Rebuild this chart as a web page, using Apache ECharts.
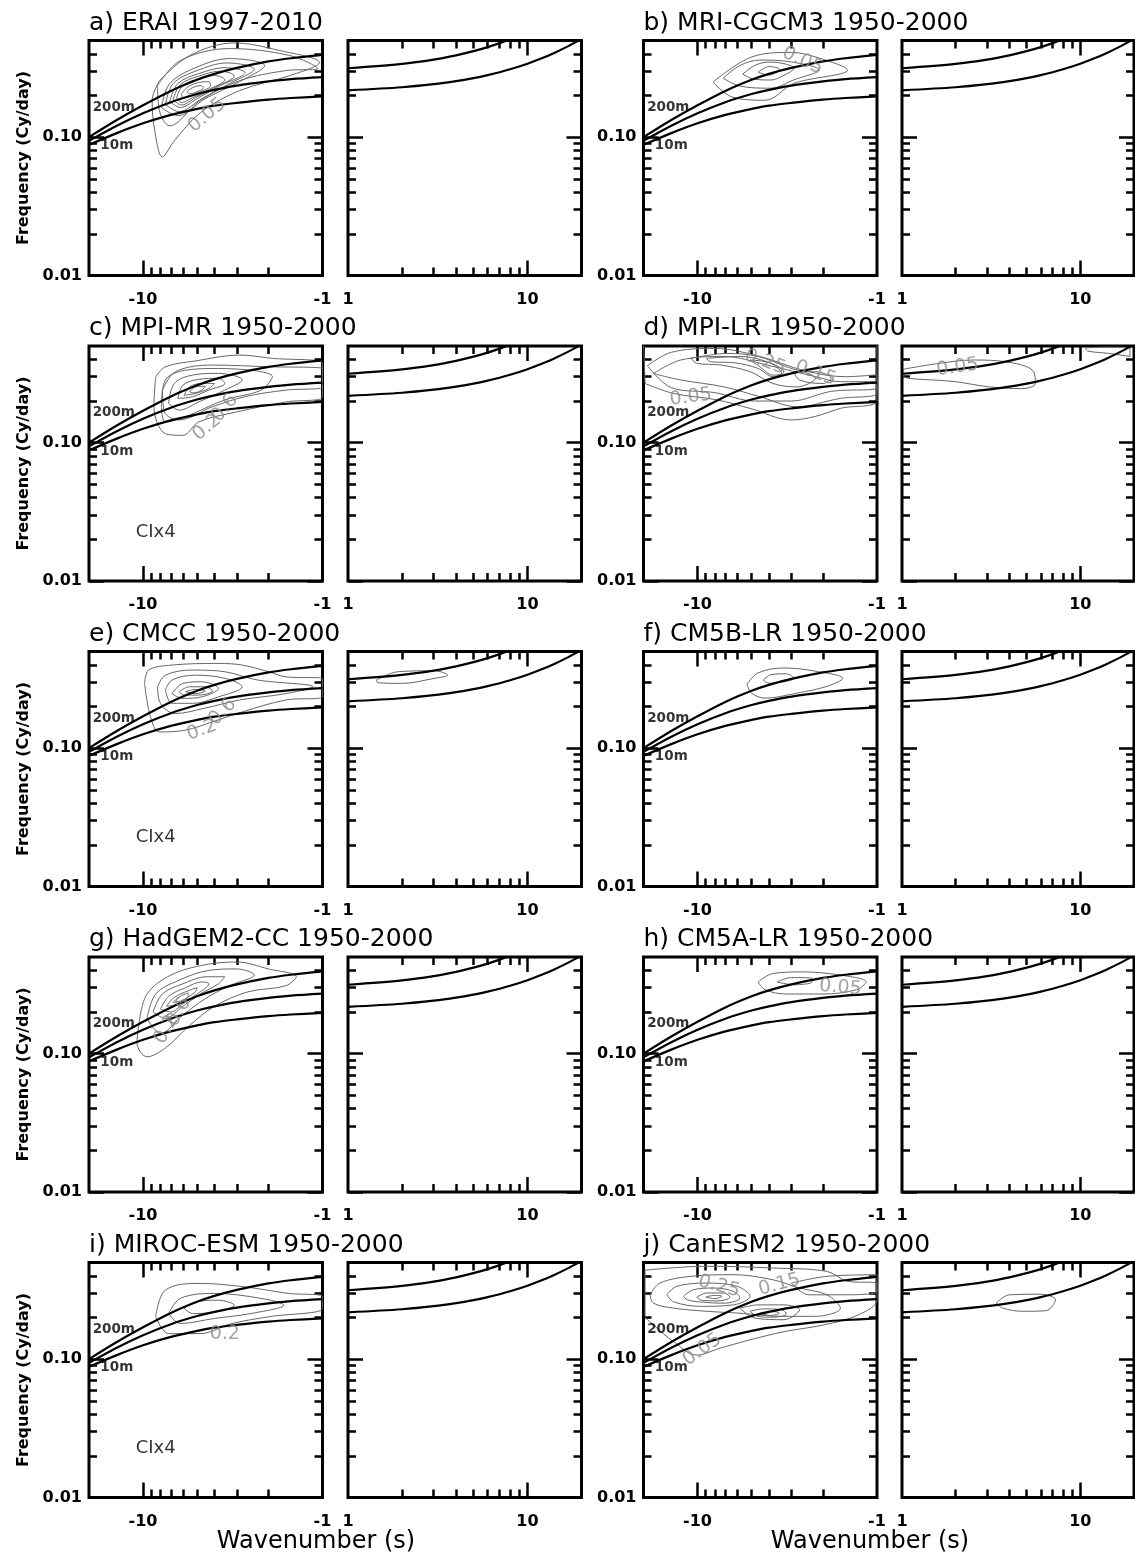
<!DOCTYPE html>
<html><head><meta charset="utf-8">
<script src="https://cdn.jsdelivr.net/npm/echarts@6.0.0/dist/echarts.min.js"></script>
<style>html,body{margin:0;padding:0;background:#fff}#c{width:1135px;height:1558px}</style>
</head><body><div id="c"></div>
<script>
// ---------------- data ----------------
const panelTitles = ['a) ERAI 1997-2010','b) MRI-CGCM3 1950-2000','c) MPI-MR 1950-2000','d) MPI-LR 1950-2000','e) CMCC 1950-2000','f) CM5B-LR 1950-2000','g) HadGEM2-CC 1950-2000','h) CM5A-LR 1950-2000','i) MIROC-ESM 1950-2000','j) CanESM2 1950-2000'];
const clx4Panels = [false,false,true,false,true,false,false,false,true,false];

// dispersion curves (westward: |wavenumber|, eastward: wavenumber)
const westWavenumbers = [1,1.5,2,3,4,5,7,10,14,20];
const mrg10m  = [0.197,0.192,0.187,0.177,0.169,0.160,0.145,0.126,0.107,0.088];
const mrg40m  = [0.272,0.263,0.253,0.236,0.220,0.205,0.179,0.149,0.121,0.094];
const mrg200m = [0.393,0.372,0.353,0.317,0.287,0.260,0.216,0.170,0.133,0.100];
const eastWavenumbers = [1,2,3,4,5,6,7,8,10,12,14,17,20];
const eig10m = [0.218,0.2295,0.2416,0.2542,0.2673,0.2809,0.295,0.3095,0.3399,0.3718,0.4051,0.4572,0.5114];
const eig40m = [0.315,0.3387,0.3639,0.3906,0.4186,0.4479,0.4785,0.5101,0.5763,0.6458,0.718,0.83,0.946];

// axis ticks
const xTickMajor = [10];
const xTickMinor = [2,3,4,5,6,7,8,9];
const xLabelValues = [1,10];
const yTickMajor = [0.01,0.1];
const yTickMinor = [0.02,0.03,0.04,0.05,0.06,0.07,0.08,0.09,0.2,0.3,0.4];
const yLabelValues = [0.01,0.1];

// curve labels
const depthLabels = ['200m','10m'];
const depthLabelWavenumbers = [19.2,17.4];
const depthLabelFreqs = [0.165,0.0865];
const clxPoint = [8.5,0.0225];

// contour loops [wavenumber, frequency]
const contoursA = [
 [[8.1,0.256],[5.5,0.389],[3.1,0.48],[1.73,0.423],[1.04,0.346],[1.52,0.279],[2.9,0.217],[4.8,0.15],[6.7,0.094],[7.8,0.072],[8.6,0.111],[8.9,0.184]],
 [[8.3,0.236],[6.2,0.358],[3.3,0.437],[1.52,0.389],[1.06,0.313],[1.6,0.303],[2.9,0.256],[4.8,0.184],[7.1,0.121],[8.1,0.155]],
 [[7.9,0.164],[7.1,0.244],[5.1,0.318],[3.3,0.37],[2.1,0.329],[2.9,0.252],[4.5,0.19],[6.4,0.143]],
 [[7.5,0.172],[6.8,0.244],[5.0,0.303],[3.4,0.344],[2.4,0.31],[3.3,0.244],[4.7,0.19],[6.3,0.153]],
 [[7.1,0.181],[6.4,0.244],[4.9,0.288],[3.5,0.318],[2.7,0.293],[3.7,0.236],[4.9,0.193],[6.2,0.164]],
 [[6.8,0.187],[6.2,0.24],[4.9,0.276],[3.7,0.3],[3.1,0.277],[4.0,0.228],[5.1,0.193],[6.1,0.171]],
 [[6.5,0.193],[6.0,0.236],[4.9,0.265],[4.0,0.279],[3.5,0.26],[4.3,0.221],[5.3,0.193],[6.1,0.178]],
 [[6.1,0.206],[5.6,0.232],[4.9,0.248],[4.3,0.252],[4.2,0.236],[4.8,0.213],[5.5,0.2],[6.0,0.193]],
 [[5.7,0.213],[5.3,0.228],[4.8,0.236],[4.6,0.228],[5.0,0.213],[5.5,0.206]]
];
const contoursAEast = [];
const contourLabelsA = [[4.4,0.144,'0.05']];
const contourAnglesA = [40];

const contoursB = [
 [[8.2,0.25],[5.0,0.38],[3.0,0.41],[2.1,0.373],[1.46,0.306],[2.9,0.245],[4.2,0.185],[6.4,0.195]],
 [[7.2,0.267],[5.8,0.33],[4.5,0.361],[3.0,0.35],[2.1,0.306],[2.9,0.26],[3.9,0.226],[5.8,0.234]],
 [[5.6,0.286],[4.8,0.33],[4.0,0.349],[3.3,0.34],[2.9,0.316],[3.3,0.28],[3.9,0.259],[4.8,0.262]],
 [[4.6,0.295],[4.0,0.324],[3.5,0.31],[4.0,0.281]]
];
const contoursBEast = [];
const contourLabelsB = [[2.6,0.357,'0.05']];
const contourAnglesB = [-25];

const contoursC = [
 [[8.5,0.3],[8.7,0.182],[7.5,0.116],[6.0,0.113],[4.9,0.141],[3.0,0.167],[1.6,0.197],[1.0,0.215],[1.0,0.375],[1.9,0.407],[2.9,0.43],[5.1,0.39],[7.5,0.354]],
 [[7.8,0.24],[6.6,0.326],[4.1,0.364],[2.0,0.354],[1.0,0.344],[1.0,0.253],[1.6,0.24],[2.7,0.215],[4.1,0.182],[6.3,0.146],[7.6,0.167]],
 [[7.9,0.182],[7.5,0.284],[5.8,0.334],[3.8,0.344],[1.9,0.30],[2.2,0.24],[3.5,0.204],[5.8,0.154],[7.5,0.141]],
 [[7.2,0.192],[6.7,0.268],[5.3,0.308],[3.8,0.317],[2.8,0.284],[3.5,0.24],[4.9,0.197],[6.3,0.172]],
 [[6.4,0.209],[6.0,0.26],[4.9,0.287],[3.8,0.292],[3.5,0.268],[4.3,0.24],[5.3,0.215]],
 [[5.9,0.22],[5.5,0.253],[4.7,0.268],[4.0,0.268],[4.3,0.246],[5.1,0.227]],
 [[5.5,0.233],[5.1,0.253],[4.5,0.256],[4.7,0.24],[5.2,0.229]]
];
const contoursCEast = [];
const contourLabelsC = [[3.5,0.178,'0.6'],[4.4,0.129,'0.2']];
const contourAnglesC = [50,40];

const contoursD = [
 [[19.6,0.268],[13.6,0.227],[7.8,0.204],[5.1,0.177],[3.0,0.146],[2.2,0.155],[1.6,0.177],[1.0,0.204],[1.0,0.55],[3.8,0.55],[13.6,0.55],[20,0.55]],
 [[19,0.36],[14,0.45],[8,0.48],[4.5,0.42],[2.5,0.33],[1.5,0.3],[1.0,0.31],[1.0,0.25],[1.8,0.235],[3.0,0.2],[4.8,0.2],[8,0.23],[14,0.25]],
 [[17.6,0.316],[12.4,0.396],[7.1,0.42],[4.1,0.364],[2.2,0.30],[1.6,0.276],[1.0,0.276],[1.0,0.227],[1.6,0.209],[2.8,0.182],[4.5,0.215],[7.1,0.253],[12.4,0.284]],
 [[10.9,0.407],[6.8,0.442],[4.6,0.42],[3.2,0.354],[2.2,0.292],[2.8,0.253],[3.8,0.268],[5.1,0.326],[7.4,0.364],[10.1,0.375]],
 [[8.9,0.407],[5.8,0.42],[4.1,0.385],[3.3,0.326],[3.8,0.30],[4.6,0.344],[6.2,0.378],[8.5,0.385]],
 [[5.1,0.396],[3.9,0.375],[3.4,0.317],[3.8,0.308],[4.5,0.354]],
 [[2.9,0.326],[2.2,0.326],[1.8,0.292],[2.0,0.268],[2.7,0.284]]
];
const contoursDEast = [
 [[1.02,0.34],[1.63,0.375],[2.5,0.396],[3.8,0.385],[5.4,0.334],[5.6,0.268],[4.7,0.246],[3.1,0.253],[2.0,0.276],[1.02,0.303]],
 [[10.7,0.485],[13.8,0.49],[19,0.485],[19,0.42],[14.5,0.442],[11,0.46]]
];
const contourLabelsD = [[10.9,0.213,'0.05'],[4.2,0.383,'0.25'],[2.2,0.317,'0.15']];
const contourAnglesD = [8,-20,-20];
const contourLabelsDEast = [[2.05,0.35,'0.05']];
const contourAnglesDEast = [8];

const contoursE = [
 [[9.8,0.294],[9.3,0.367],[6.9,0.399],[3.8,0.41],[2.8,0.399],[2.0,0.357],[1.6,0.328],[1.0,0.32],[1.0,0.235],[1.6,0.223],[2.8,0.183],[4.1,0.155],[5.8,0.135],[8.1,0.131],[9.1,0.169]],
 [[8.3,0.278],[7.5,0.337],[5.3,0.367],[3.5,0.357],[2.3,0.311],[1.13,0.278],[1.6,0.248],[2.9,0.223],[4.5,0.195],[6.6,0.178],[8.0,0.211]],
 [[7.5,0.263],[6.9,0.311],[5.1,0.337],[3.5,0.32],[2.8,0.278],[3.8,0.235],[5.3,0.211],[6.9,0.211]],
 [[6.9,0.248],[6.0,0.294],[4.7,0.302],[3.8,0.27],[4.7,0.235],[6.0,0.229]],
 [[6.3,0.256],[5.5,0.278],[4.5,0.278],[4.1,0.259],[4.9,0.242],[5.9,0.242]],
 [[5.8,0.256],[5.1,0.266],[4.5,0.259],[5.1,0.248]]
];
const contoursEEast = [
 [[1.44,0.311],[1.9,0.357],[3.04,0.363],[3.6,0.337],[3.04,0.32],[1.99,0.294],[1.47,0.297]]
];
const contourLabelsE = [[3.6,0.183,'0.6'],[4.7,0.135,'0.2']];
const contourAnglesE = [45,20];

const contoursF = [
 [[5.3,0.29],[4.6,0.35],[3.3,0.38],[2.2,0.36],[1.55,0.32],[1.9,0.28],[2.8,0.25],[4.2,0.23],[5.0,0.25]],
 [[4.3,0.31],[3.9,0.34],[3.2,0.345],[2.9,0.32],[3.4,0.30],[4.0,0.295]]
];
const contoursFEast = [];

const contoursG = [
 [[10.5,0.17],[9.5,0.27],[7.0,0.37],[4.5,0.44],[3.0,0.46],[2.0,0.41],[1.4,0.36],[1.6,0.31],[2.6,0.28],[4.0,0.22],[5.5,0.16],[7.5,0.11],[9.5,0.095],[10.8,0.12]],
 [[9.5,0.18],[8.5,0.27],[6.3,0.34],[4.3,0.4],[3.0,0.41],[2.4,0.37],[3.3,0.31],[4.5,0.25],[6.0,0.19],[8.0,0.14]],
 [[8.8,0.2],[7.8,0.27],[6.0,0.32],[4.4,0.36],[3.5,0.36],[3.8,0.32],[4.8,0.27],[6.0,0.22],[7.5,0.18]],
 [[8.0,0.21],[7.2,0.26],[5.8,0.3],[4.7,0.33],[4.3,0.32],[5.0,0.27],[6.0,0.23],[7.0,0.2]],
 [[7.4,0.22],[6.7,0.255],[5.6,0.285],[5.0,0.3],[5.1,0.28],[5.8,0.25],[6.6,0.225]],
 [[6.8,0.235],[6.2,0.26],[5.6,0.275],[5.6,0.26],[6.2,0.24]]
];
const contoursGEast = [];
const contourLabelsG = [[6.3,0.2,'0.6'],[7.4,0.15,'0.2']];
const contourAnglesG = [60,60];

const contoursH = [
 [[4.6,0.33],[3.8,0.38],[2.6,0.39],[1.6,0.37],[1.15,0.33],[1.3,0.29],[2.0,0.27],[3.2,0.27],[4.2,0.29]],
 [[3.6,0.33],[3.0,0.355],[2.3,0.35],[2.3,0.33],[2.9,0.315]]
];
const contoursHEast = [];
const contourLabelsH = [[1.6,0.3,'0.05']];
const contourAnglesH = [-5];

const contoursI = [
 [[8.5,0.203],[7.5,0.316],[4.8,0.353],[2.7,0.333],[1.55,0.299],[1.0,0.283],[1.0,0.233],[1.97,0.203],[3.2,0.181],[4.8,0.153],[7.2,0.153]],
 [[7.2,0.214],[6.2,0.275],[4.0,0.299],[2.2,0.275],[1.64,0.246],[2.5,0.214],[4.0,0.197],[6.2,0.181]],
 [[5.9,0.233],[5.1,0.259],[3.8,0.267],[3.1,0.246],[4.0,0.219],[5.3,0.214]]
];
const contoursIEast = [];
const contourLabelsI = [[3.5,0.153,'0.2']];
const contourAnglesI = [0];

const contoursJ = [
 [[19.6,0.44],[8.9,0.47],[3.8,0.456],[1.9,0.431],[1.45,0.365],[1.0,0.355],[1.0,0.269],[1.27,0.209],[1.98,0.177],[3.3,0.158],[5.1,0.138],[7.5,0.12],[10.1,0.107],[13.6,0.134],[17.6,0.177],[19.6,0.209]],
 [[18.4,0.292],[16.2,0.355],[10.9,0.397],[6.3,0.408],[3.8,0.375],[2.7,0.327],[1.9,0.292],[1.6,0.234],[2.2,0.204],[3.4,0.204],[5.8,0.215],[8.9,0.222],[13.6,0.234],[17.6,0.254]],
 [[14.8,0.292],[13.1,0.336],[8.9,0.355],[6.0,0.336],[5.1,0.285],[6.3,0.247],[9.6,0.241],[13.6,0.26]],
 [[12.0,0.285],[10.5,0.318],[8.1,0.327],[6.3,0.309],[5.8,0.277],[7.1,0.254],[9.6,0.259],[11.4,0.269]],
 [[10.1,0.28],[8.9,0.301],[7.1,0.301],[6.6,0.28],[7.8,0.264],[9.4,0.266]],
 [[9.0,0.281],[8.1,0.289],[7.3,0.285],[8.0,0.274]],
 [[5.8,0.234],[4.6,0.247],[3.3,0.247],[2.7,0.228],[3.3,0.193],[4.8,0.198]],
 [[5.1,0.222],[4.3,0.231],[3.4,0.228],[3.2,0.212],[3.8,0.201],[4.6,0.204]],
 [[4.5,0.215],[3.9,0.222],[3.5,0.215],[3.9,0.207]],
 [[3.0,0.355],[1.9,0.397],[1.0,0.408],[1.0,0.309],[1.6,0.292],[2.4,0.292]]
];
const contoursJEast = [
 [[3.37,0.254],[4.0,0.292],[5.87,0.295],[7.26,0.269],[6.4,0.224],[4.74,0.222],[3.67,0.234]]
];
const contourLabelsJ = [[7.6,0.336,'0.25'],[3.5,0.345,'0.15'],[9.4,0.117,'0.05']];
const contourAnglesJ = [-15,15,35];

// ---------------- build ----------------
const panels = [
 {west:contoursA, east:contoursAEast, labels:contourLabelsA, angles:contourAnglesA, elabels:[], eangles:[]},
 {west:contoursB, east:contoursBEast, labels:contourLabelsB, angles:contourAnglesB, elabels:[], eangles:[]},
 {west:contoursC, east:contoursCEast, labels:contourLabelsC, angles:contourAnglesC, elabels:[], eangles:[]},
 {west:contoursD, east:contoursDEast, labels:contourLabelsD, angles:contourAnglesD, elabels:contourLabelsDEast, eangles:contourAnglesDEast},
 {west:contoursE, east:contoursEEast, labels:contourLabelsE, angles:contourAnglesE, elabels:[], eangles:[]},
 {west:contoursF, east:contoursFEast, labels:[], angles:[], elabels:[], eangles:[]},
 {west:contoursG, east:contoursGEast, labels:contourLabelsG, angles:contourAnglesG, elabels:[], eangles:[]},
 {west:contoursH, east:contoursHEast, labels:contourLabelsH, angles:contourAnglesH, elabels:[], eangles:[]},
 {west:contoursI, east:contoursIEast, labels:contourLabelsI, angles:contourAnglesI, elabels:[], eangles:[]},
 {west:contoursJ, east:contoursJEast, labels:contourLabelsJ, angles:contourAnglesJ, elabels:[], eangles:[]}
];

const FONT = 'DejaVu Sans';
const rowTop = r => 40.5 + 305.5 * r;
const SUB_H = 235;
const colWestX = [89, 643.5];
const colEastX = [348, 902];
const subW = [233.5, 232];

const grids = [], xAxes = [], yAxes = [], series = [], graphics = [];

function addGrid(left, top, width, height) {
  grids.push({left, top, width, height, show: true, borderColor: '#000', borderWidth: 3,
    backgroundColor: 'rgba(0,0,0,0)', containLabel: false, outerBoundsMode: 'none'});
  return grids.length - 1;
}
function xAx(g, west, position, ticks, len, showLabels) {
  xAxes.push({type: 'log', logBase: 10, gridIndex: g, min: 1, max: 20, inverse: west, position,
    axisLine: {show: false}, splitLine: {show: false}, minorTick: {show: false},
    axisTick: {show: true, inside: true, length: len, customValues: ticks, lineStyle: {color: '#000', width: 2.5}},
    axisLabel: {show: showLabels, customValues: xLabelValues, margin: 16, color: '#000',
      fontFamily: FONT, fontWeight: 'bold', fontSize: 16,
      formatter: v => (west ? '-' : '') + Math.round(v)}});
  return xAxes.length - 1;
}
function yAx(g, position, ticks, len, showLabels, name) {
  yAxes.push({type: 'log', logBase: 10, gridIndex: g, min: 0.01, max: 0.5, position, offset: 0,
    axisLine: {show: false}, splitLine: {show: false}, minorTick: {show: false},
    axisTick: {show: true, inside: true, length: len, customValues: ticks, lineStyle: {color: '#000', width: 2.5}},
    axisLabel: {show: showLabels, customValues: yLabelValues, margin: 7, color: '#000',
      fontFamily: FONT, fontWeight: 'bold', fontSize: 16,
      formatter: v => (v < 0.05 ? '0.01' : '0.10')},
    name: name, nameLocation: 'middle', nameGap: 57, nameRotate: 90,
    nameTextStyle: {color: '#000', fontFamily: FONT, fontWeight: 'bold', fontSize: 16}});
  return yAxes.length - 1;
}
function curve(xi, yi, xs, ys) {
  series.push({type: 'line', xAxisIndex: xi, yAxisIndex: yi, data: xs.map((s, k) => [s, ys[k]]),
    smooth: 0.3, symbol: 'none', silent: true, clip: true, lineStyle: {color: '#000', width: 2.2}, z: 5});
}
function loops(xi, yi, list) {
  list.forEach(loop => {
    series.push({type: 'line', xAxisIndex: xi, yAxisIndex: yi, data: loop.concat([loop[0]]),
      smooth: 0.35, symbol: 'none', silent: true, clip: true, lineStyle: {color: '#666', width: 1}, z: 3});
  });
}
function textMarks(xi, yi, list, angles, style) {
  if (!list.length) return;
  series.push({type: 'scatter', xAxisIndex: xi, yAxisIndex: yi, symbolSize: 1, silent: true, z: 6,
    itemStyle: {color: 'rgba(0,0,0,0)'},
    data: list.map((l, k) => ({value: [l[0], l[1]], label: {formatter: l[2], rotate: angles ? angles[k] : 0}})),
    label: Object.assign({show: true, fontFamily: FONT}, style)});
}

panels.forEach((p, i) => {
  const r = Math.floor(i / 2), c = i % 2;
  const top = rowTop(r);
  const gW = addGrid(colWestX[c], top, subW[0], SUB_H);
  const gE = addGrid(colEastX[c], top, subW[c], SUB_H);
  [gW, gE].forEach((g, k) => {
    const west = k === 0;
    const xb = xAx(g, west, 'bottom', xTickMajor, 15, true);
    xAx(g, west, 'bottom', xTickMinor, 8, false);
    xAx(g, west, 'top', xTickMajor, 15, false);
    xAx(g, west, 'top', xTickMinor, 8, false);
    const yl = yAx(g, 'left', yTickMajor, 15, west, (west && c === 0) ? 'Frequency (Cy/day)' : '');
    yAx(g, 'left', yTickMinor, 8, false, '');
    yAx(g, 'right', yTickMajor, 15, false, '');
    yAx(g, 'right', yTickMinor, 8, false, '');
    if (west) {
      loops(xb, yl, p.west);
      curve(xb, yl, westWavenumbers, mrg200m);
      curve(xb, yl, westWavenumbers, mrg40m);
      curve(xb, yl, westWavenumbers, mrg10m);
      textMarks(xb, yl, p.labels, p.angles, {position: 'inside', color: '#8c8c8c', fontSize: 19});
      textMarks(xb, yl, depthLabels.map((t, q) => [depthLabelWavenumbers[q], depthLabelFreqs[q], t]), null,
        {position: 'right', distance: 0, color: '#000', fontSize: 13.5, fontWeight: 'bold'});
      if (clx4Panels[i]) textMarks(xb, yl, [[clxPoint[0], clxPoint[1], 'CIx4']], null,
        {position: 'inside', color: '#000', fontSize: 18});
    } else {
      loops(xb, yl, p.east);
      curve(xb, yl, eastWavenumbers, eig40m);
      curve(xb, yl, eastWavenumbers, eig10m);
      textMarks(xb, yl, p.elabels, p.eangles, {position: 'inside', color: '#8c8c8c', fontSize: 19});
    }
  });
  graphics.push({type: 'text', x: colWestX[c], y: top - 17.5, silent: true,
    style: {text: panelTitles[i], font: '25px "DejaVu Sans"', fill: '#000', align: 'left', verticalAlign: 'middle'}});
});
[316, 870].forEach(cx => graphics.push({type: 'text', x: cx, y: 1542, silent: true,
  style: {text: 'Wavenumber (s)', font: '24px "DejaVu Sans"', fill: '#000', align: 'center', verticalAlign: 'middle'}}));

const chart = echarts.init(document.getElementById('c'), null, {renderer: 'canvas', width: 1135, height: 1558});
chart.setOption({animation: false, backgroundColor: '#fff', grid: grids, xAxis: xAxes, yAxis: yAxes,
  series: series, graphic: graphics});
</script></body></html>
